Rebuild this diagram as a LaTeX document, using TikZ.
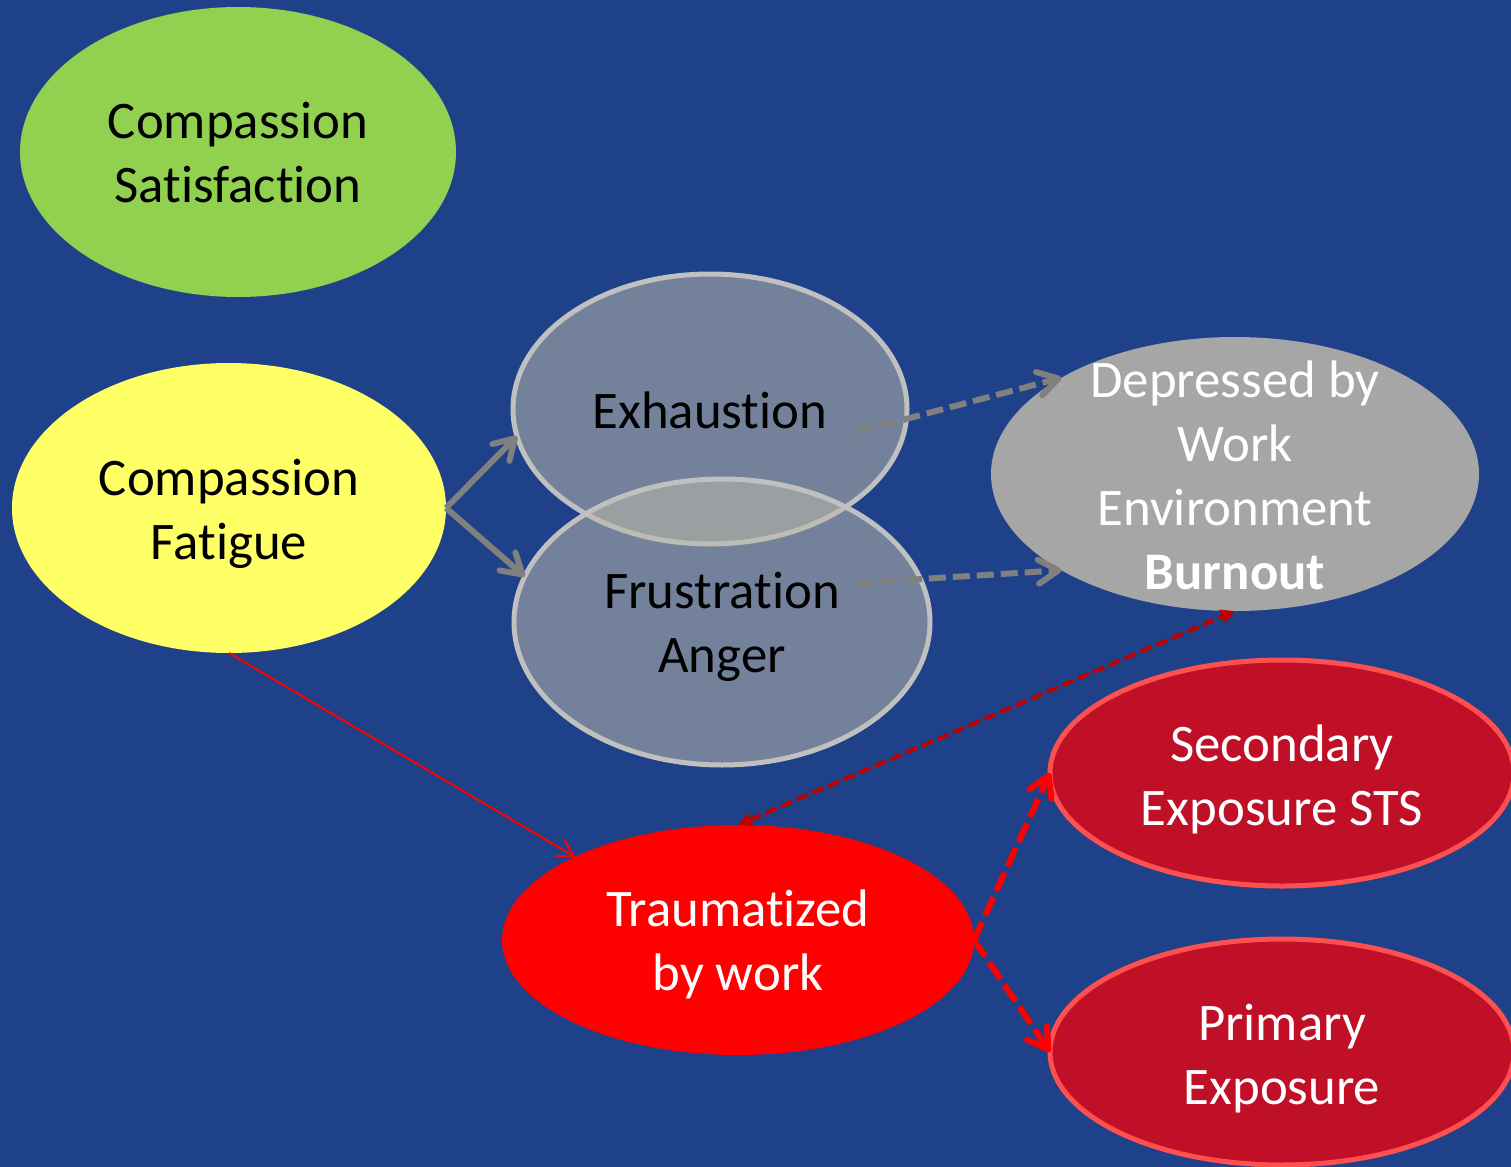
\documentclass[tikz,border=0pt]{standalone}
\usepackage{fontspec}
\setmainfont[Ligatures=NoCommon]{Carlito}
\usetikzlibrary{shapes.geometric,arrows.meta}
\definecolor{bgblue}{RGB}{31,65,137}
\definecolor{csgreen}{RGB}{146,208,80}
\definecolor{cfyellow}{RGB}{255,255,102}
\definecolor{slatefill}{RGB}{188,186,170}
\definecolor{slateedge}{RGB}{192,192,192}
\definecolor{depgrey}{RGB}{166,166,166}
\definecolor{darkredfill}{RGB}{192,16,40}
\definecolor{rededge}{RGB}{255,80,80}
\definecolor{arrowgrey}{RGB}{128,128,128}
\definecolor{dashdarkred}{RGB}{192,0,0}
\begin{document}
\begin{tikzpicture}[x=0.5pt,y=-0.5pt,
  ell/.style={ellipse, inner sep=0pt, outer sep=0pt},
  txt/.style={align=center, inner sep=0pt, font=\fontsize{26.4}{32}\selectfont},
  slate/.style={ell, fill=slatefill, fill opacity=0.54, draw=slateedge, draw opacity=1, line width=2.5pt},
  redell/.style={ell, fill=darkredfill, draw=rededge, line width=2.5pt},
  greyarrow/.style={draw=arrowgrey, line width=3pt, -{Straight Barb[length=10pt,width=12pt,round]}},
  greydash/.style={greyarrow, dash pattern=on 8.5pt off 3.5pt},
  thinred/.style={draw=red, line width=1pt, -{Straight Barb[length=8pt,width=9pt,round]}},
  reddash/.style={draw=red, line width=3pt, dash pattern=on 10pt off 3.5pt, -{Straight Barb[length=10pt,width=12pt,round]}},
  darkdash/.style={draw=dashdarkred, line width=2pt, dash pattern=on 6pt off 2.5pt, {Triangle[length=7pt,width=7pt]}-{Triangle[length=7pt,width=7pt]}}
]
\clip (0,0) rectangle (1511,1167);
\fill[bgblue] (0,0) rectangle (1511,1167);

% ellipses
\node[ell, fill=csgreen, minimum width=218pt, minimum height=145pt] (cs) at (238,152) {};
\node[ell, fill=cfyellow, minimum width=217pt, minimum height=145pt] (cf) at (229,508) {};
\node[slate, minimum width=197pt, minimum height=135pt] (ex) at (710,409) {};
\node[slate, minimum width=208pt, minimum height=143pt] (fr) at (722,622) {};
\node[ell, fill=depgrey, minimum width=244pt, minimum height=137pt] (dep) at (1235,474) {};
\node[redell, minimum width=232pt, minimum height=113pt] (sec) at (1282,773) {};
\node[redell, minimum width=232pt, minimum height=113pt] (pri) at (1282,1052) {};
\node[ell, fill=red, minimum width=236pt, minimum height=115pt] (tr) at (738,940) {};

% texts
\node[txt, text=black] (cst) at (238,153) {Compassion\\Satisfaction};
\node[txt, text=black] (cft) at (229,514) {Compassion\\Fatigue};
\node[txt, text=black] (ext) at (710,410) {Exhaustion};
\node[txt, text=black] (frt) at (722,627) {Frustration\\Anger};
\node[txt, text=white] (dept) at (1235,475) {Depressed by\\Work\\Environment\\\textbf{Burnout}};
\node[txt, text=white] (sect) at (1282,779) {Secondary\\Exposure STS};
\node[txt, text=white] (prit) at (1282,1059) {Primary\\Exposure};
\node[txt, text=white] (trt) at (738,944) {Traumatized\\by work};

% start points of the dashed grey connectors
\coordinate (exs) at (857,432);
\coordinate (frs) at (857,583);

% connectors
\draw[greyarrow] (cf.east) -- (ex.188.6);
\draw[greyarrow] (cf.east) -- (fr.167.8);
\draw[greydash] (exs) -- (dep.151.3);
\draw[greydash] (frs) -- (dep.209.2);
\draw[thinred] (cf.south) -- (tr.153.7);
\draw[darkdash] (tr.north) -- (dep.south);
\draw[reddash] (tr.east) -- (sec.west);
\draw[reddash] (tr.east) -- (pri.west);
\end{tikzpicture}
\end{document}
